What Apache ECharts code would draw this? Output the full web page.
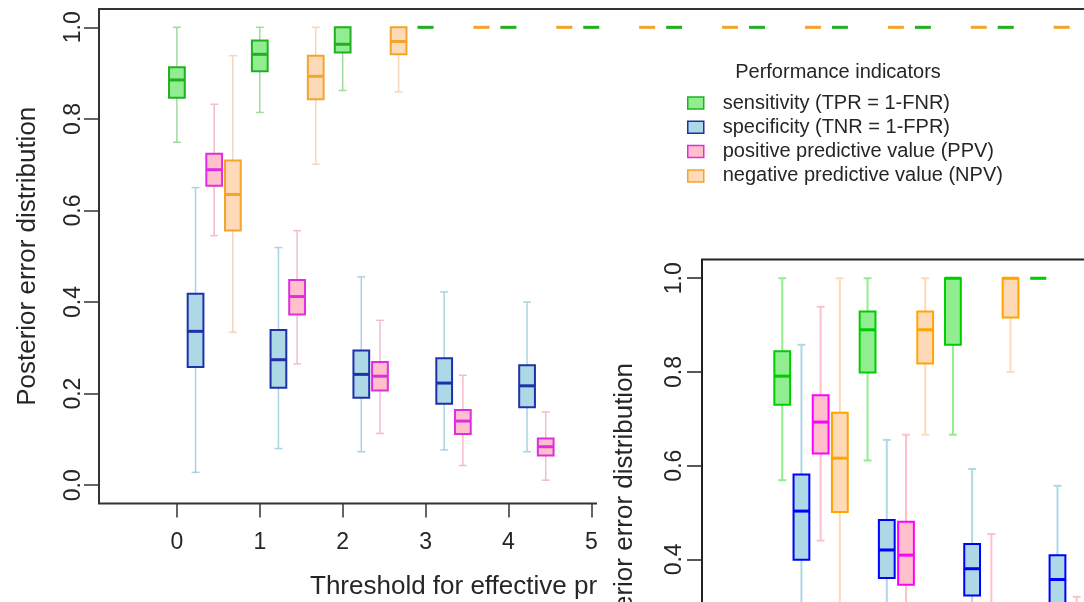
<!DOCTYPE html>
<html>
<head>
<meta charset="utf-8">
<script src="https://cdn.jsdelivr.net/npm/echarts@6/dist/echarts.min.js"></script>
<style>
html, body { margin: 0; padding: 0; background: #fff; }
#chart { width: 1084px; height: 602px; }
</style>
</head>
<body>
<div id="chart"></div>
<script>
const xTicks = [0, 1, 2, 3, 4, 5, 6, 7, 8, 9, 10];
const insetXTicks = [0, 1, 2, 3, 4, 5, 6];
const yTicks = [0, 0.2, 0.4, 0.6, 0.8, 1.0];

const seriesNames = [
  'sensitivity (TPR = 1-FNR)',
  'specificity (TNR = 1-FPR)',
  'positive predictive value (PPV)',
  'negative predictive value (NPV)'
];

// main plot, one box per threshold (0, 1, 2, ...): [min, q1, median, q3, max]
const mainSens = [
  [0.749, 0.846, 0.885, 0.913, 1.0],
  [0.814, 0.904, 0.941, 0.971, 1.0],
  [0.862, 0.945, 0.963, 1.0, 1.0],
  [1, 1, 1, 1, 1], [1, 1, 1, 1, 1], [1, 1, 1, 1, 1], [1, 1, 1, 1, 1],
  [1, 1, 1, 1, 1], [1, 1, 1, 1, 1], [1, 1, 1, 1, 1], [1, 1, 1, 1, 1]
];
const mainSpec = [
  [0.028, 0.258, 0.336, 0.418, 0.650],
  [0.080, 0.213, 0.274, 0.339, 0.519],
  [0.073, 0.191, 0.242, 0.294, 0.455],
  [0.077, 0.178, 0.223, 0.277, 0.422],
  [0.073, 0.170, 0.217, 0.262, 0.400]
];
const mainPPV = [
  [0.545, 0.654, 0.689, 0.724, 0.832],
  [0.265, 0.373, 0.412, 0.448, 0.556],
  [0.113, 0.207, 0.238, 0.269, 0.360],
  [0.043, 0.112, 0.140, 0.164, 0.240],
  [0.011, 0.065, 0.084, 0.102, 0.160]
];
const mainNPV = [
  [0.334, 0.556, 0.635, 0.709, 0.938],
  [0.701, 0.843, 0.893, 0.938, 1.0],
  [0.859, 0.941, 0.969, 1.0, 1.0],
  [1, 1, 1, 1, 1], [1, 1, 1, 1, 1], [1, 1, 1, 1, 1], [1, 1, 1, 1, 1],
  [1, 1, 1, 1, 1], [1, 1, 1, 1, 1], [1, 1, 1, 1, 1], [1, 1, 1, 1, 1]
];

// inset plot
const insetSens = [
  [0.569, 0.730, 0.791, 0.844, 1.0],
  [0.611, 0.799, 0.890, 0.929, 1.0],
  [0.666, 0.858, 1.0, 1.0, 1.0],
  [1, 1, 1, 1, 1]
];
const insetSpec = [
  [0.150, 0.399, 0.503, 0.581, 0.858],
  [0.120, 0.360, 0.420, 0.484, 0.655],
  [0.100, 0.323, 0.380, 0.433, 0.593],
  [0.080, 0.290, 0.357, 0.409, 0.557]
];
const insetPPV = [
  [0.440, 0.626, 0.693, 0.750, 0.939],
  [0.150, 0.346, 0.409, 0.480, 0.666],
  [0.080, 0.200, 0.250, 0.300, 0.454],
  [0.030, 0.120, 0.160, 0.200, 0.320]
];
const insetNPV = [
  [0.230, 0.501, 0.616, 0.713, 1.0],
  [0.666, 0.818, 0.890, 0.929, 1.0],
  [0.800, 0.916, 1.0, 1.0, 1.0],
  [1, 1, 1, 1, 1]
];

const FONT = "'Liberation Sans', Arial, sans-serif";
const TXT = '#262626';
const offsets = [0, 0.225, 0.45, 0.675];

const mainStyle = [
  { fill: '#90ee90', line: '#22b022', whisk: '#9fda9f' },
  { fill: '#add8e6', line: '#1f30a8', whisk: '#a9d2e2' },
  { fill: '#ffc0cb', line: '#e02ce0', whisk: '#f2bccb' },
  { fill: '#ffdab9', line: '#f2a52a', whisk: '#f5d5bc' }
];
const insetStyle = [
  { fill: '#90ee90', line: '#00cd00', whisk: '#90ee90' },
  { fill: '#add8e6', line: '#0000ff', whisk: '#add8e6' },
  { fill: '#ffc0cb', line: '#ff00ff', whisk: '#ffc0cb' },
  { fill: '#ffdab9', line: '#ffa500', whisk: '#ffdab9' }
];

function boxRender(st, boxW, lw) {
  return function (params, api) {
    const x = api.value(0);
    const p = [1, 2, 3, 4, 5].map(k => api.coord([x, api.value(k)]));
    const cx = p[0][0];
    const w = api.size([boxW, 0])[0];
    const c = w / 4;
    const ws = { stroke: st.whisk, lineWidth: lw.whisk };
    return {
      type: 'group',
      children: [
        { type: 'line', shape: { x1: cx, y1: p[0][1], x2: cx, y2: p[1][1] }, style: ws },
        { type: 'line', shape: { x1: cx, y1: p[3][1], x2: cx, y2: p[4][1] }, style: ws },
        { type: 'line', shape: { x1: cx - c, y1: p[0][1], x2: cx + c, y2: p[0][1] }, style: ws },
        { type: 'line', shape: { x1: cx - c, y1: p[4][1], x2: cx + c, y2: p[4][1] }, style: ws },
        {
          type: 'rect',
          shape: { x: cx - w / 2, y: p[3][1], width: w, height: p[1][1] - p[3][1] },
          style: { fill: st.fill, stroke: st.line, lineWidth: lw.box }
        },
        {
          type: 'line',
          shape: { x1: cx - w / 2, y1: p[2][1], x2: cx + w / 2, y2: p[2][1] },
          style: { stroke: st.line, lineWidth: lw.med }
        }
      ]
    };
  };
}

function makeSeries(k, rows, axisIdx, styles, boxW, lw, z) {
  return {
    name: seriesNames[k],
    type: 'custom',
    xAxisIndex: axisIdx,
    yAxisIndex: axisIdx,
    z: z,
    silent: true,
    encode: { x: 0, y: [1, 2, 3, 4, 5] },
    renderItem: boxRender(styles[k], boxW, lw),
    data: rows.map((d, i) => [i + offsets[k]].concat(d))
  };
}

const mainLw = { whisk: 1.5, box: 2, med: 3 };
const insetLw = { whisk: 2, box: 2, med: 3 };
const mainRows = [mainSens, mainSpec, mainPPV, mainNPV];
const insetRows = [insetSens, insetSpec, insetPPV, insetNPV];

const series = [];
mainRows.forEach((r, k) => series.push(makeSeries(k, r, 0, mainStyle, 0.19, mainLw, 2)));
insetRows.forEach((r, k) => series.push(makeSeries(k, r, 1, insetStyle, 0.185, insetLw, 12)));

const axisText = { fontSize: 23, fontFamily: FONT, color: TXT };

const chart = echarts.init(document.getElementById('chart'), null, { renderer: 'canvas' });

const option = {
  animation: false,
  backgroundColor: '#fff',
  grid: [
    {
      left: 99, top: 9, width: 1031, height: 494.5,
      show: true, borderColor: '#333', borderWidth: 2, backgroundColor: 'transparent',
      outerBoundsMode: 'none'
    },
    {
      left: 702, top: 259.5, width: 635, height: 506,
      show: true, borderColor: '#222', borderWidth: 2, backgroundColor: '#fff',
      outerBoundsMode: 'none', z: 10
    }
  ],
  xAxis: [
    {
      type: 'value', gridIndex: 0, min: -0.94, max: 11.5,
      axisLine: { show: false, onZero: false },
      splitLine: { show: false },
      axisTick: { show: true, length: 14, customValues: xTicks, lineStyle: { color: '#333', width: 1.5 } },
      axisLabel: Object.assign({ customValues: xTicks, margin: 28 }, axisText)
    },
    {
      type: 'value', gridIndex: 1, min: -0.94, max: 6.5, z: 10,
      axisLine: { show: false, onZero: false },
      splitLine: { show: false },
      axisTick: { show: true, length: 14, customValues: insetXTicks, lineStyle: { color: '#222', width: 1.5 } },
      axisLabel: Object.assign({ customValues: insetXTicks, margin: 28 }, axisText),
      name: 'Threshold for effective probability', nameLocation: 'middle', nameGap: 60,
      nameTextStyle: { fontSize: 26, fontFamily: FONT, color: TXT }
    }
  ],
  yAxis: [
    {
      type: 'value', gridIndex: 0, min: -0.04, max: 1.04,
      axisLine: { show: false, onZero: false },
      splitLine: { show: false },
      axisTick: { show: true, length: 15, customValues: yTicks, lineStyle: { color: '#333', width: 1.5 } },
      axisLabel: Object.assign({ customValues: yTicks, rotate: 90, margin: 14, formatter: v => v.toFixed(1) }, axisText),
      name: 'Posterior error distribution', nameLocation: 'middle', nameGap: 58,
      nameTextStyle: { fontSize: 26, fontFamily: FONT, color: TXT }
    },
    {
      type: 'value', gridIndex: 1, min: -0.04, max: 1.04, z: 10,
      axisLine: { show: false, onZero: false },
      splitLine: { show: false },
      axisTick: { show: true, length: 15, customValues: yTicks, lineStyle: { color: '#222', width: 1.5 } },
      axisLabel: Object.assign({ customValues: yTicks, rotate: 90, margin: 16, formatter: v => v.toFixed(1) }, axisText),
      name: 'Posterior error distribution', nameLocation: 'middle', nameGap: 64,
      nameTextStyle: { fontSize: 26, fontFamily: FONT, color: TXT }
    }
  ],
  legend: {
    orient: 'vertical', left: 687, top: 91, padding: 0,
    itemWidth: 16, itemHeight: 12, itemGap: 0.3,
    icon: 'rect', selectedMode: false,
    textStyle: { fontSize: 20, fontFamily: FONT, color: TXT, lineHeight: 24, padding: [0, 0, 0, 14] },
    data: seriesNames.map((n, i) => ({
      name: n,
      itemStyle: { color: mainStyle[i].fill, borderColor: mainStyle[i].line, borderWidth: 1.5 }
    }))
  },
  graphic: [
    {
      type: 'text', x: 310, y: 587, z: 1, silent: true,
      style: { text: 'Threshold for effective probability', fontSize: 26, fontFamily: FONT, fill: TXT, align: 'left', verticalAlign: 'middle' }
    },
    {
      type: 'text', x: 838, y: 72, z: 1, silent: true,
      style: { text: 'Performance indicators', fontSize: 20, fontFamily: FONT, fill: TXT, align: 'center', verticalAlign: 'middle' }
    },
    {
      type: 'rect', z: 6, silent: true,
      shape: { x: 597, y: 250, width: 600, height: 400 },
      style: { fill: '#fff' }
    }
  ],
  series: series
};

chart.setOption(option);
</script>
</body>
</html>
